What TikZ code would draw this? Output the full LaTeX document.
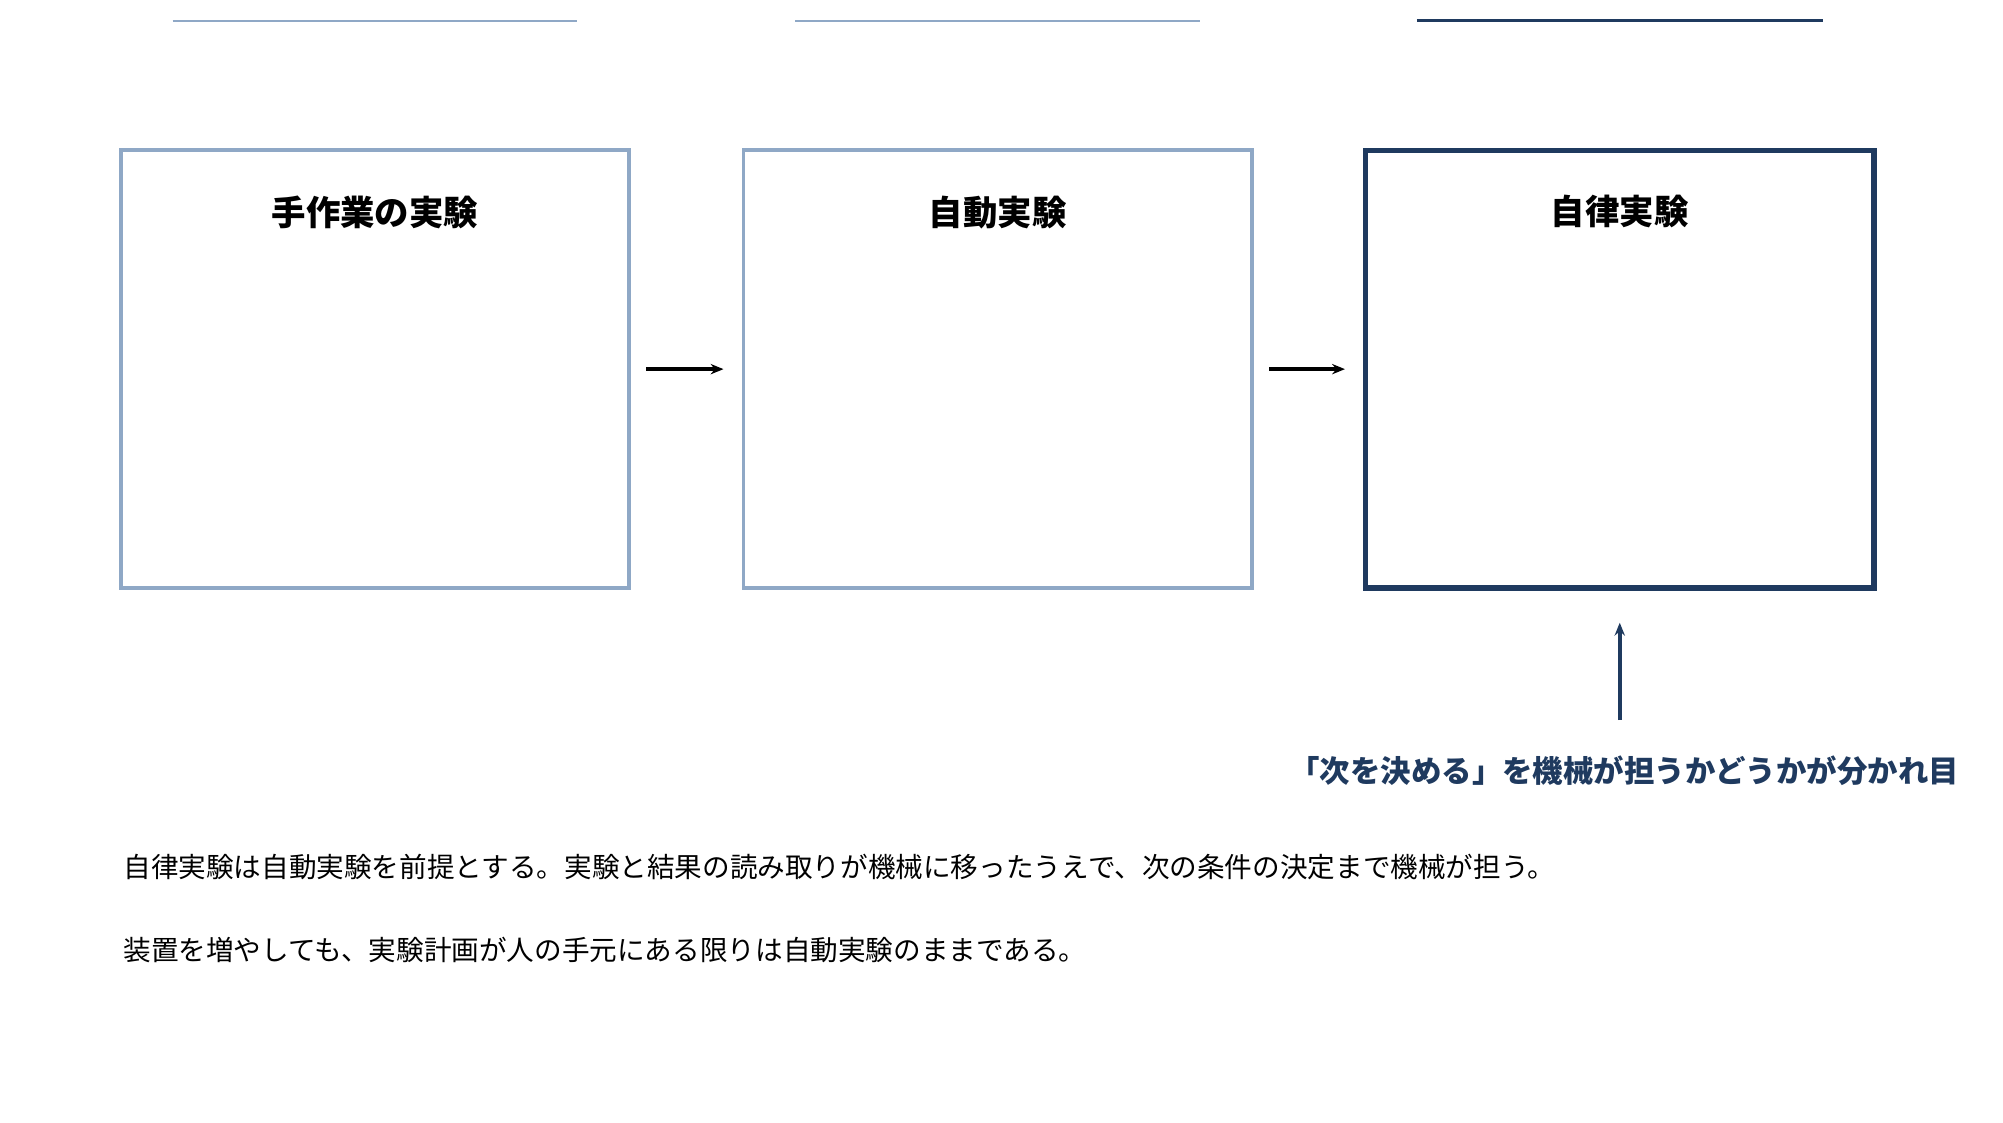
\documentclass[tikz,border=0pt]{standalone}
\usepackage{fontspec}
\setmainfont{Noto Sans CJK JP}
\usetikzlibrary{positioning,arrows.meta}
\definecolor{paleblue}{HTML}{8FA8C6}
\definecolor{navy}{HTML}{1F3A5F}
\begin{document}
\begin{tikzpicture}[x=1pt,y=-1pt,
    panel/.style={draw=paleblue,line width=3pt,minimum width=396pt,minimum height=341pt,inner sep=0pt},
    title/.style={font=\fontsize{26.8}{30}\selectfont\bfseries},
    row/.style={font=\fontsize{22.4}{26}\selectfont,anchor=west,inner sep=0pt},
    val/.style={font=\fontsize{22.4}{26}\selectfont,anchor=east,inner sep=0pt},
    flow/.style={-{Stealth[length=10pt,width=8pt]},line width=3pt},
    note/.style={font=\fontsize{21.5}{26}\selectfont,anchor=west,inner sep=0pt}]
\useasboundingbox (0,0) rectangle (1560,874);
% panels
\node[panel] (manual) at (292,287.5) {};
\node[panel] (auto) at (777,287.5) {};
\node[panel,draw=navy,line width=4pt] (autonomous) at (1261.5,287.5) {};
\foreach \b/\t/\a/\c/\d/\col in {manual/手作業の実験/人/人/人/paleblue,
    auto/自動実験/機械/機械/人/paleblue,
    autonomous/自律実験/機械/機械/機械/navy}{
  \node[title] at ([yshift=-50pt]\b.north) {\t};
  \draw[\col,line width=2pt] ([shift={(42,-99)}]\b.north west) -- ([shift={(-42,-99)}]\b.north east);
  \node[row] at ([shift={(46,-150)}]\b.north west) {実験する};
  \node[row] at ([shift={(46,-227)}]\b.north west) {結果を読む};
  \node[row,font=\fontsize{22.4}{26}\selectfont\bfseries] at ([shift={(46,-304)}]\b.north west) {次を決める};
  \node[val] at ([shift={(-45,-150)}]\b.north east) {\a};
  \node[val] at ([shift={(-45,-227)}]\b.north east) {\c};
  \node[val,font=\fontsize{22.4}{26}\selectfont\bfseries] at ([shift={(-45,-304)}]\b.north east) {\d};
}
% arrows between panels
\draw[flow] ([xshift=12pt]manual.east) -- ([xshift=-14pt]auto.west);
\draw[flow] ([xshift=12pt]auto.east) -- ([xshift=-14pt]autonomous.west);
% caption
\node[font=\fontsize{23.7}{28}\selectfont\bfseries,text=navy] (key) at (1265,600) {「次を決める」を機械が担うかどうかが分かれ目};
\coordinate (tip) at ([yshift=-25pt]autonomous.south);
\draw[flow,navy] ([yshift=24pt]key.north -| tip) -- (tip);
% notes
\node[note] (n1) at (96,675) {自律実験は自動実験を前提とする。実験と結果の読み取りが機械に移ったうえで、次の条件の決定まで機械が担う。};
\node[note] (n2) at (96,740) {装置を増やしても、実験計画が人の手元にある限りは自動実験のままである。};
\end{tikzpicture}
\end{document}
